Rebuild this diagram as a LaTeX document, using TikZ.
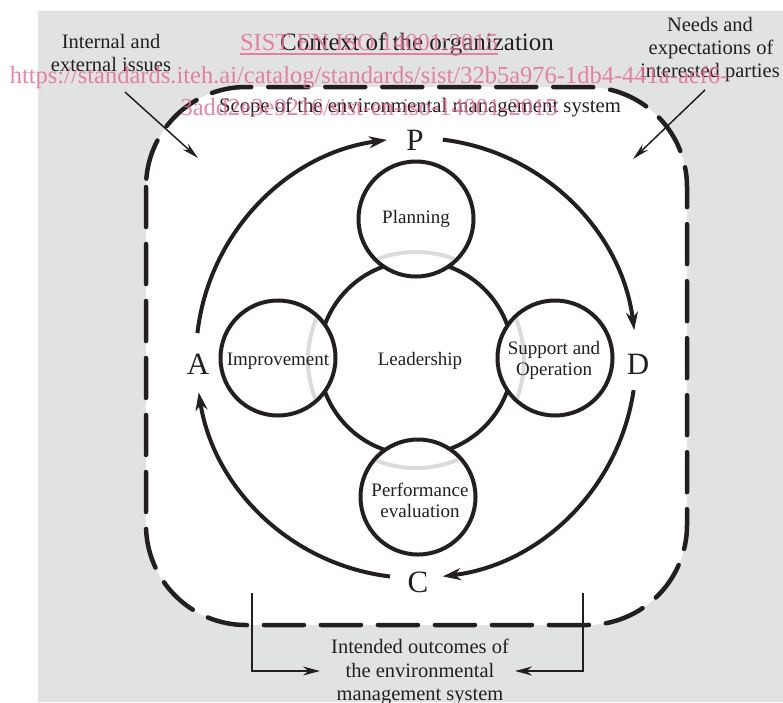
\documentclass[tikz,border=0pt]{standalone}
\usepackage{fontspec}
\setmainfont{Liberation Serif}
\usetikzlibrary{arrows.meta,calc}
\definecolor{bg}{RGB}{225,226,228}
\definecolor{ink}{RGB}{35,31,32}
\definecolor{ghost}{RGB}{218,219,221}
\definecolor{wm}{RGB}{228,112,148}
\begin{document}
\begin{tikzpicture}[x=1pt,y=-1pt,
  sidelbl/.style={text=ink,font=\fontsize{20.5}{23}\selectfont,inner sep=0,anchor=base},
  circlbl/.style={text=ink,font=\fontsize{19}{21}\selectfont,inner sep=0,anchor=base},
  letter/.style={text=ink,font=\fontsize{31}{33}\selectfont,inner sep=0,anchor=base},
  wmtext/.style={text=wm,text opacity=0.85,font=\fontsize{24.5}{26}\selectfont,inner sep=0,anchor=base},
  smallc/.style={circle,draw=ink,fill=white,line width=4pt,minimum size=115pt,inner sep=0},
  pdca/.style={draw=ink,line width=4pt,-{Stealth[length=18pt,width=12pt]}},
  pointer/.style={draw=ink,line width=1.5pt,-{Stealth[length=17pt,width=8pt]}},
  bracket/.style={draw=ink,line width=2pt,-{Stealth[length=17pt,width=9pt]}}]
\useasboundingbox (0,0) rectangle (783,702);
% background
\fill[bg] (38,11) rectangle (783,702);
\fill[white,rounded corners=100pt] (146,87) rectangle (687,625);
\draw[ink,line width=4.5pt,line cap=round,dash pattern=on 40pt off 17pt,rounded corners=100pt] (146,87) rectangle (687,625);
% leadership and process circles
\coordinate (O) at (416,358);
\draw[ink,line width=4pt] (O) circle[radius=97];
\node[smallc] (plan) at (416,219) {};
\node[smallc] (imp) at (278,358) {};
\node[smallc] (sup) at (555,358) {};
\node[smallc] (perf) at (418,497) {};
\begin{scope}
\clip (plan.center) circle[radius=55] (imp.center) circle[radius=55] (sup.center) circle[radius=55] (perf.center) circle[radius=55];
\draw[ghost,line width=4pt] (416,360) circle[radius=108];
\end{scope}
\node[circlbl] (tplan) at (416,223) {Planning};
\node[circlbl] (tlead) at (420,365) {Leadership};
\node[circlbl] (timp) at (278,365) {Improvement};
\node[circlbl,align=center] (tsup) at (554,375) {Support and\\[0pt]Operation};
\node[circlbl,align=center] (tperf) at (420,517) {Performance\\[0pt]evaluation};
% PDCA
\node[letter] (P) at (415,150) {P};
\node[letter] (D) at (638,374) {D};
\node[letter] (C) at (418,592) {C};
\node[letter] (A) at (198,374) {A};
\coordinate (sAP) at ($(O)+(186.5:220)$);
\coordinate (sPD) at ($(O)+(277:220)$);
\coordinate (sDC) at ($(O)+(8.4:220)$);
\coordinate (sCA) at ($(O)+(96.8:220)$);
\draw[pdca] (sAP) arc[start angle=186.5,end angle=262.4,radius=220];
\draw[pdca] (sPD) arc[start angle=277,end angle=352.7,radius=220];
\draw[pdca] (sDC) arc[start angle=8.4,end angle=83,radius=220];
\draw[pdca] (sCA) arc[start angle=96.8,end angle=171,radius=220];
% titles
\node[text=ink,font=\fontsize{25}{28}\selectfont,inner sep=0,anchor=base] (ctx) at (417,50) {Context of the organization};
\node[sidelbl,font=\fontsize{20.7}{23}\selectfont] (scope) at (420,112) {Scope of the environmental management system};
\node[sidelbl] (int1) at (111,48) {Internal and};
\node[sidelbl] (int2) at (111,71) {external issues};
\node[sidelbl] (need1) at (710,31) {Needs and};
\node[sidelbl] (need2) at (711,54) {expectations of};
\node[sidelbl] (need3) at (710,77) {interested parties};
\node[sidelbl] (out1) at (420,653) {Intended outcomes of};
\node[sidelbl] (out2) at (420,677) {the environmental};
\node[sidelbl] (out3) at (420,700) {management system};
% pointers
\coordinate (ia) at (125,92);
\coordinate (ib) at (198,158);
\coordinate (na) at (705,90);
\coordinate (nb) at (633,159);
\draw[pointer] (ia) -- (ib);
\draw[pointer] (na) -- (nb);
\coordinate (bl) at (252,593);
\coordinate (blt) at (320,671);
\coordinate (br) at (583,593);
\coordinate (brt) at (515,671);
\draw[bracket] (bl) |- (blt);
\draw[bracket] (br) |- (brt);
% watermark
\node[wmtext] (wm1) at (369,50) {SIST EN ISO 14001:2015};
\draw[wm,opacity=0.85,line width=1.2pt] (wm1.base west) ++(0,4) coordinate (u1) -- (wm1.base east |- u1);
\node[wmtext] (wm2) at (369,83) {https://standards.iteh.ai/catalog/standards/sist/32b5a976-1db4-441a-aef6-};
\node[wmtext] (wm3) at (369,115) {3add2e3e9216/sist-en-iso-14001-2015};
\end{tikzpicture}
\end{document}
